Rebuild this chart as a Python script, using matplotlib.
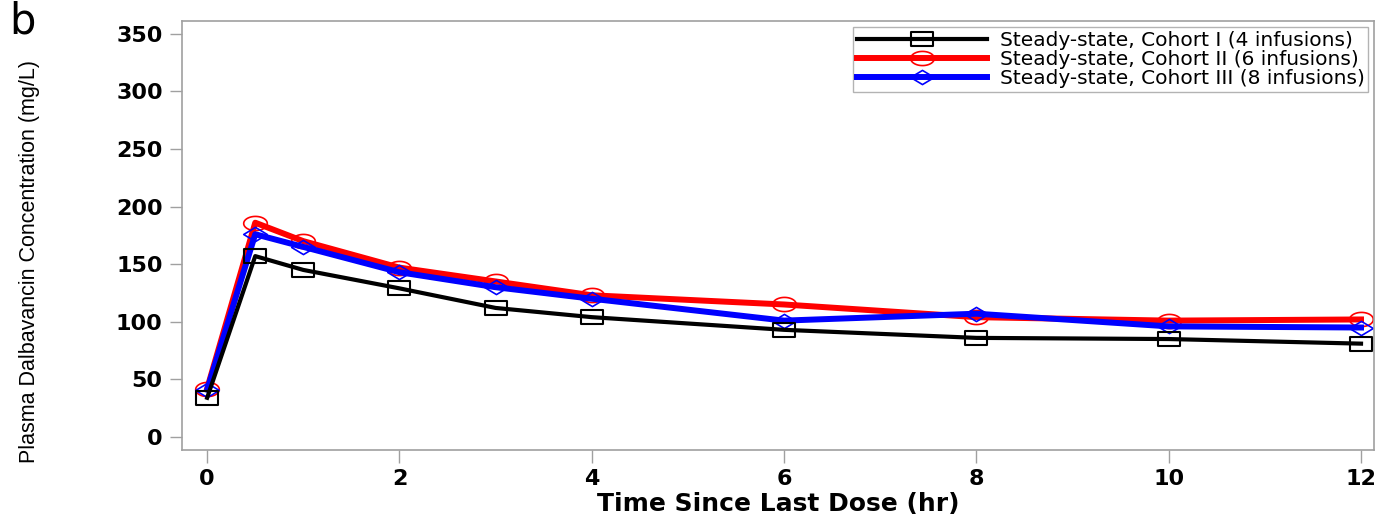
import matplotlib
matplotlib.use("Agg")
import matplotlib.pyplot as plt
import numpy as np
from matplotlib.path import Path

time_hr = [0, 0.5, 1, 2, 3, 4, 6, 8, 10, 12]
cohort1 = [34, 157, 145, 129, 112, 104, 93, 86, 85, 81]
cohort2 = [42, 186, 170, 147, 135, 123, 115, 104, 101, 102]
cohort3 = [41, 176, 165, 143, 130, 120, 101, 107, 96, 95]
labels = ["Steady-state, Cohort I (4 infusions)",
          "Steady-state, Cohort II (6 infusions)",
          "Steady-state, Cohort III (8 infusions)"]
xticks = [0, 2, 4, 6, 8, 10, 12]
yticks = [0, 50, 100, 150, 200, 250, 300, 350]

# wide (stretched) marker shapes
sq = Path([(-1, -0.6), (1, -0.6), (1, 0.6), (-1, 0.6), (-1, -0.6)],
          [Path.MOVETO, Path.LINETO, Path.LINETO, Path.LINETO, Path.CLOSEPOLY])
th = np.linspace(0, 2 * np.pi, 60)
ell = Path(np.column_stack([np.cos(th), 0.6 * np.sin(th)]))
dia = Path([(-1, 0), (0, 0.6), (1, 0), (0, -0.6), (-1, 0)],
           [Path.MOVETO, Path.LINETO, Path.LINETO, Path.LINETO, Path.CLOSEPOLY])

plt.rcParams['font.family'] = ['DejaVu Sans']

fig = plt.figure(figsize=(13.8, 5.16), dpi=100)
ax = fig.add_axes([0.132, 0.128, 0.864, 0.831])

ax.plot(time_hr, cohort1, color='black', lw=3.0, marker=sq, ms=16,
        mfc='none', mec='black', mew=1.5, label=labels[0], zorder=3)
ax.plot(time_hr, cohort2, color='#ff0000', lw=4.3, marker=ell, ms=17,
        mfc='none', mec='#ff0000', mew=1.2, label=labels[1], zorder=2)
ax.plot(time_hr, cohort3, color='#0000ff', lw=4.3, marker=dia, ms=17,
        mfc='none', mec='#0000ff', mew=1.2, label=labels[2], zorder=2)

ax.set_xlim(-0.26, 12.14)
ax.set_ylim(-11.3, 361)
ax.set_xticks(xticks)
ax.set_yticks(yticks)
ax.set_xticklabels([str(v) for v in xticks], fontsize=16, fontweight='bold')
ax.set_yticklabels([str(v) for v in yticks], fontsize=16, fontweight='bold')
ax.tick_params(axis='both', direction='out', length=9, width=1,
               color='#a0a0a0', pad=5)
for sp in ax.spines.values():
    sp.set_color('#a0a0a0')
    sp.set_linewidth(1.2)

ax.set_xlabel("Time Since Last Dose (hr)", fontsize=18, fontweight='bold', labelpad=2)
ax.set_ylabel("Plasma Dalbavancin Concentration (mg/L)", fontsize=15.5,
              family=['Liberation Sans', 'DejaVu Sans'])
ax.yaxis.set_label_coords(-0.119, 0.44)

leg = ax.legend(loc='upper right', fontsize=14.5, frameon=True, fancybox=False,
                edgecolor='#a0a0a0', handlelength=6.5, borderpad=0.2,
                labelspacing=0.0, handletextpad=0.6, borderaxespad=0.3)
leg.get_frame().set_linewidth(1.0)

fig.text(0.007, 0.935, "b", fontsize=30)

fig.savefig("out.png", dpi=100)
